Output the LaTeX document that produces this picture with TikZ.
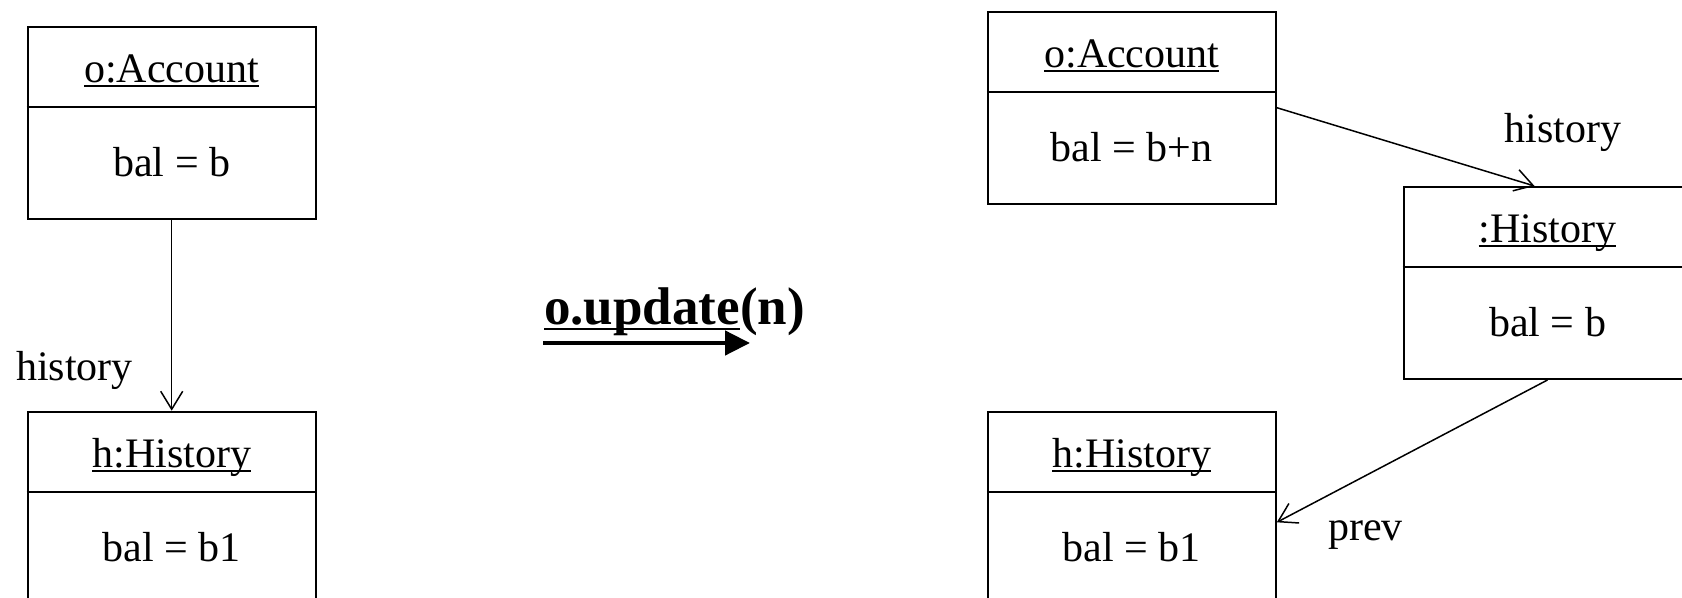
\documentclass[tikz,border=0pt]{standalone}
\usepackage{fontspec}
\setmainfont{Liberation Serif}
\usetikzlibrary{arrows.meta,calc}

% underline drawn at a fixed distance below the baseline
\newcommand{\objul}[3]{\setbox0\hbox{#1}\rlap{\rule[-#2]{\wd0}{#3}}\box0}

\tikzset{
  objbox/.style={draw, line width=1pt, minimum width=144pt, minimum height=96pt,
    inner sep=0pt, anchor=north},
  divider/.style={line width=1pt},
  objtext/.style={inner sep=0pt, anchor=base, font=\fontsize{21}{25}\selectfont},
  lbl/.style={inner sep=0pt, anchor=base, font=\fontsize{21}{25}\selectfont},
  link/.style={line width=0.75pt, -{Straight Barb[length=9pt,width=11pt]}},
  msg/.style={line width=2.3pt, -{Triangle[length=12.5pt,width=12pt]}},
}

% an object box: name, centre x, top y, title, attribute
\newcommand{\umlobject}[5]{%
  \node[objbox] (#1) at (#2,#3) {};
  \draw[divider] ([yshift=-40.5pt]#1.north west) -- ([yshift=-40.5pt]#1.north east);
  \node[objtext] (#1-title) at ([yshift=-28.5pt]#1.north) {\objul{#4}{2pt}{1pt}};
  \node[objtext] (#1-attr) at ([yshift=-75.5pt]#1.north) {#5};
}

\begin{document}
\begin{tikzpicture}[x=0.5pt,y=-0.5pt]
  \useasboundingbox (0,0) rectangle (1682,598);
  \clip (0,0) rectangle (1682,598);

  % before the update
  \umlobject{accA}{171.7}{26}{o:Account}{bal = b}
  \umlobject{histA}{171.7}{410.7}{h:History}{bal = b1}
  \draw[link] (accA.south) -- (histA.north);
  \node[lbl] (labA) at (74.5,381) {history};

  % the operation
  \node[inner sep=0pt, anchor=base, font=\fontsize{26.5}{30}\selectfont\bfseries] (op)
    at (674.5,325) {\objul{o.update}{2.6pt}{1.3pt}(n)};
  \coordinate (opL) at (543,343);
  \coordinate (opR) at (750,343);
  \draw[msg] (opL) -- (opR);

  % after the update
  \umlobject{accB}{1131.8}{10.7}{o:Account}{bal = b+n}
  \umlobject{histNew}{1547.5}{186}{:History}{bal = b}
  \umlobject{histB}{1131.8}{410.7}{h:History}{bal = b1}
  \coordinate (tipH) at ([xshift=-6.5pt]histNew.north);
  \coordinate (tipP) at ([yshift=-55.8pt]histB.north east);
  \draw[link] (accB.east) -- (tipH);
  \draw[link] (histNew.south) -- (tipP);
  \node[lbl] (labB) at (1563,142.8) {history};
  \node[lbl] (labP) at (1365.5,540.6) {prev};
\end{tikzpicture}
\end{document}
